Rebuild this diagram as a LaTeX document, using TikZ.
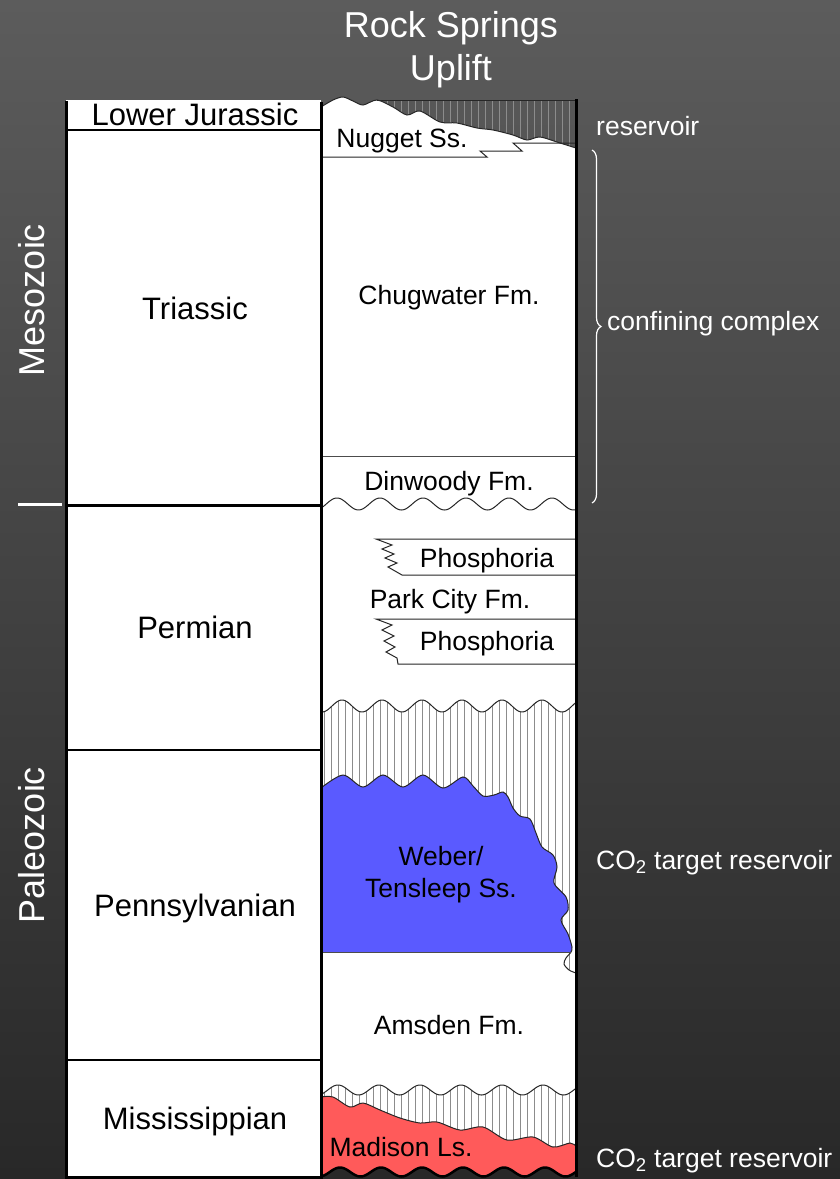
\documentclass[tikz,border=0pt]{standalone}
\usepackage{fontspec}
\setmainfont{Liberation Sans}
\usetikzlibrary{decorations.pathreplacing}
\definecolor{bgtop}{RGB}{92,92,92}
\definecolor{bgbot}{RGB}{40,40,40}
\definecolor{webblue}{RGB}{90,90,255}
\definecolor{madred}{RGB}{255,90,90}
\definecolor{hatchc}{RGB}{140,140,140}
\begin{document}
\begin{tikzpicture}[x=1pt,y=-1pt,
  periodlbl/.style={font=\fontsize{31}{36}\selectfont, text=black, anchor=base, inner sep=0pt},
  fmlbl/.style={font=\fontsize{26.5}{30}\selectfont, text=black, anchor=base, inner sep=0pt},
  sidelbl/.style={font=\fontsize{26.5}{30}\selectfont, text=white, anchor=base west, inner sep=0pt},
  eralbl/.style={font=\fontsize{36}{40}\selectfont, text=white, anchor=base, rotate=90, inner sep=0pt},
  titlelbl/.style={font=\fontsize{36}{40}\selectfont, text=white, anchor=base, inner sep=0pt},
  borderline/.style={line width=3pt, black},
  sepline/.style={line width=1.3pt, black},
  contact/.style={line width=1pt, black!85},
  hatchline/.style={line width=0.8pt, hatchc},
]
\useasboundingbox (0,0) rectangle (840,1179);
\shade[top color=bgtop, bottom color=bgbot] (0,0) rectangle (840,1179);

% left column
\fill[white] (66,100) rectangle (321,1177);
% middle column base
\fill[white] (321,155) rectangle (576,1166);

% ---- top hatched unconformity (Nugget)
\begin{scope}
  \clip (377,100) rectangle (576,160);
  \foreach \hx in {380,387,...,576} \draw[hatchline] (\hx,100) -- (\hx,160);
\end{scope}
\fill[white] plot[smooth] coordinates {(321,107) (333,100) (343,97) (353,101) (363,105) (377,100) (393,107) (407,115) (420,111) (440,122) (457,123) (477,128) (493,130) (513,135) (527,140) (540,137) (560,143) (576,148)} -- (576,160) -- (321,160) -- cycle;
\draw[contact] plot[smooth] coordinates {(321,107) (333,100) (343,97) (353,101) (363,105) (377,100) (393,107) (407,115) (420,111) (440,122) (457,123) (477,128) (493,130) (513,135) (527,140) (540,137) (560,143) (576,148)};
\draw[contact] (377,100) -- (576,100);
\draw[contact] (321,157) -- (487,157) -- (480,151) -- (522,151) -- (513,143) -- (576,143);

% Chugwater / Dinwoody
\draw[contact, black!70] (321,456) -- (576,456);
\draw[contact] plot[domain=321:576,samples=160] (\x,{504-6*cos((\x-337)*8.372)});

% Phosphoria tongues
\draw[contact] (576,539) -- (376,539) -- (392,545) -- (382,549) -- (394,554) -- (385,558) -- (397,563) -- (388,567) -- (402,575) -- (576,575);
\draw[contact] (576,619) -- (376,619) -- (392,625) -- (382,630) -- (394,636) -- (384,641) -- (395,647) -- (386,652) -- (397,658) -- (398,664) -- (576,664);

% ---- middle hatched unconformity (Weber)
\begin{scope}
  \clip plot[domain=321:576,samples=160] (\x,{706-6*cos((\x-342)*9)}) -- (576,980) -- (321,980) -- cycle;
  \foreach \hx in {324,331,...,576} \draw[hatchline] (\hx,690) -- (\hx,980);
\end{scope}
\fill[white] (321,952) -- (571,952) -- plot[smooth] coordinates {(571,952) (566,958) (564,964) (569,970) (576,973)} -- (576,985) -- (321,985) -- cycle;
\draw[contact] plot[domain=321:576,samples=160] (\x,{706-6*cos((\x-342)*9)});
\fill[webblue] plot[smooth] coordinates {(321,788) (343,775) (363,787) (383,775) (403,787) (423,775) (443,788) (463,777) (473,786) (483,796) (494,795) (503,792) (508,797) (513,808) (520,816) (530,819) (536,833) (542,847) (553,855) (557,867) (554,883) (566,897) (568,910) (561,920) (568,934) (572,947) (571,952)} -- (321,952) -- cycle;
\draw[contact] plot[smooth] coordinates {(321,788) (343,775) (363,787) (383,775) (403,787) (423,775) (443,788) (463,777) (473,786) (483,796) (494,795) (503,792) (508,797) (513,808) (520,816) (530,819) (536,833) (542,847) (553,855) (557,867) (554,883) (566,897) (568,910) (561,920) (568,934) (572,947) (571,952) (566,958) (564,964) (569,970) (576,973)};
\draw[contact, black!70] (321,952) -- (571,952);

% ---- bottom hatched unconformity (Madison)
\begin{scope}
  \clip plot[domain=321:576,samples=160] (\x,{1090-5*cos((\x-338)*8.78)}) -- (576,1165) -- (321,1165) -- cycle;
  \foreach \hx in {324,331,...,576} \draw[hatchline] (\hx,1080) -- (\hx,1165);
\end{scope}
\draw[contact] plot[domain=321:576,samples=160] (\x,{1090-5*cos((\x-338)*8.78)});
\fill[madred] plot[smooth] coordinates {(321,1097) (333,1097) (350,1107) (363,1103) (380,1110) (400,1118) (420,1123) (437,1122) (460,1130) (483,1127) (507,1140) (533,1137) (553,1147) (570,1143) (576,1146)} -- plot[domain=576:321,samples=120] (\x,{1172-4.5*cos((\x-340)*8.78)}) -- cycle;
\draw[contact] plot[smooth] coordinates {(321,1097) (333,1097) (350,1107) (363,1103) (380,1110) (400,1118) (420,1123) (437,1122) (460,1130) (483,1127) (507,1140) (533,1137) (553,1147) (570,1143) (576,1146)};
\draw[line width=2.5pt, black] plot[domain=321:576,samples=160] (\x,{1172-4.5*cos((\x-340)*8.78)});

% ---- left column lines
\draw[sepline] (66,130) -- (321,130);
\draw[borderline] (66,505) -- (321,505);
\draw[sepline] (66,750) -- (321,750);
\draw[sepline] (66,1060) -- (321,1060);
\draw[borderline] (64.5,1177) -- (322.5,1177);
\draw[borderline] (66,101) -- (66,1177);
\draw[borderline] (321,102) -- (321,1177);
\draw[borderline] (576,99) -- (576,1177);
\draw[white, line width=3pt] (18,504) -- (62,504);

% brace
\draw[white, line width=1.2pt, decorate, decoration={brace, amplitude=9pt}] (592,150) -- (592,503);

% ---- labels
\node[titlelbl] (title1) at (451,37) {Rock Springs};
\node[titlelbl] (title2) at (451,80) {Uplift};
\node[eralbl] (meso) at (45,300) {Mesozoic};
\node[eralbl] (paleo) at (45,845) {Paleozoic};

\node[periodlbl] (ljur) at (195,125) {Lower Jurassic};
\node[periodlbl] (tri) at (195,319) {Triassic};
\node[periodlbl] (perm) at (195,638) {Permian};
\node[periodlbl] (penn) at (195,916) {Pennsylvanian};
\node[periodlbl] (miss) at (195,1129) {Mississippian};

\node[fmlbl] (nugget) at (402,147) {Nugget Ss.};
\node[fmlbl] (chug) at (449,304) {Chugwater Fm.};
\node[fmlbl] (dinw) at (449,490) {Dinwoody Fm.};
\node[fmlbl] (phos1) at (487,567) {Phosphoria};
\node[fmlbl] (park) at (450,608) {Park City Fm.};
\node[fmlbl] (phos2) at (487,650) {Phosphoria};
\node[fmlbl] (weber) at (441,865) {Weber/};
\node[fmlbl] (tens) at (441,897) {Tensleep Ss.};
\node[fmlbl] (amsd) at (449,1034) {Amsden Fm.};
\node[fmlbl] (madi) at (401,1156) {Madison Ls.};

\node[sidelbl] (res) at (596,135) {reservoir};
\node[sidelbl] (conf) at (607,330) {confining complex};
\node[sidelbl] (co2a) at (596,869) {CO\textsubscript{2} target reservoir};
\node[sidelbl] (co2b) at (596,1167) {CO\textsubscript{2} target reservoir};
\end{tikzpicture}
\end{document}
